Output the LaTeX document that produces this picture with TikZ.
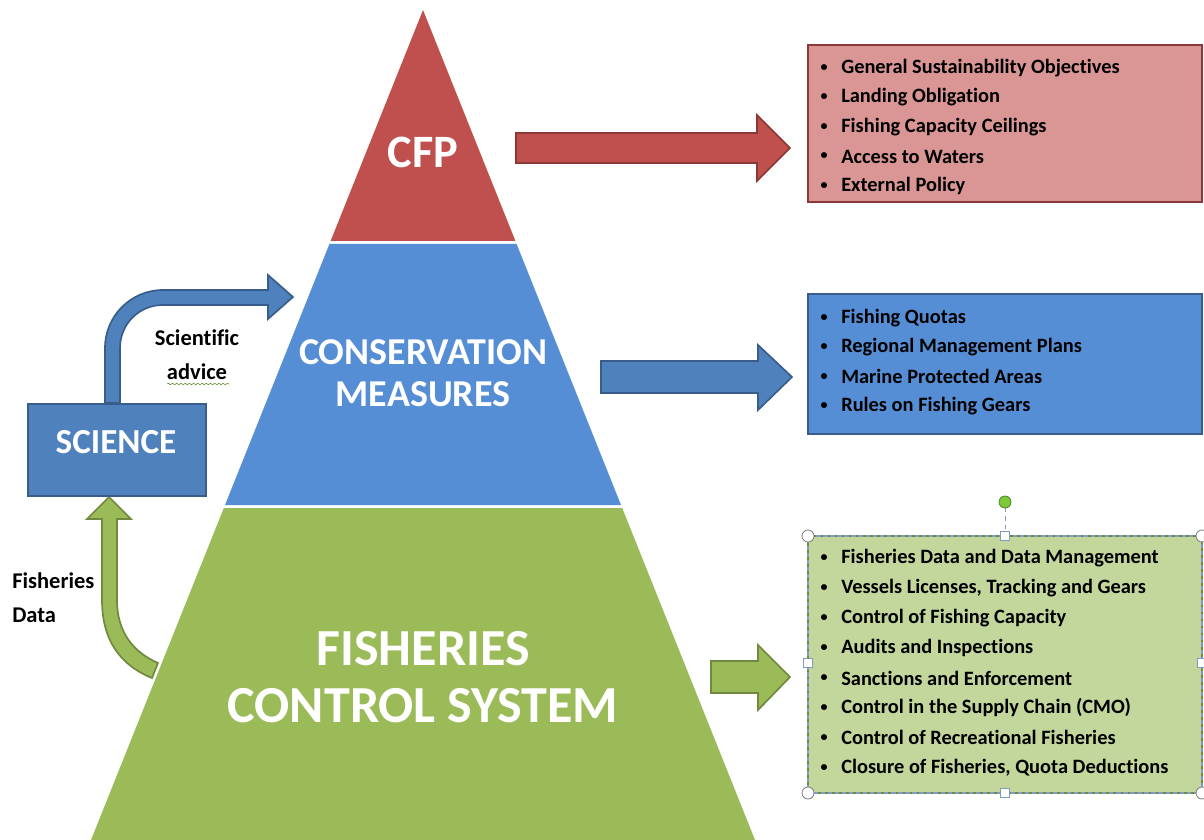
\documentclass[tikz,border=0pt]{standalone}
\usepackage{fontspec}
\setmainfont{Carlito}[Ligatures=NoCommon]
\usetikzlibrary{positioning}
\usetikzlibrary{decorations.pathmorphing}

\begin{document}
\begin{tikzpicture}
            [x=0.025cm, y=-0.025cm,
            tiertext/.style={text=white, font=\bfseries, align=center, inner sep=0pt},
            blockarrow/.style={line width=1.2pt, line join=miter},
            listbox/.style={line width=1.4pt},
            entry/.style={anchor=west, inner sep=0pt, font=\bfseries\fontsize{14.5}{17}\selectfont},
            bul/.style={inner sep=0pt, font=\bfseries\fontsize{10}{12}\selectfont},
            sidetext/.style={inner sep=0pt, font=\bfseries\fontsize{16}{24}\selectfont},
            handle/.style={fill=white, line width=0.6pt},
            ]
            \definecolor{cfpred}{HTML}{C0504D}
            \definecolor{cfpdark}{HTML}{8C3836}
            \definecolor{cfplight}{HTML}{D99694}
            \definecolor{cmblue}{HTML}{558ED5}
            \definecolor{sciblue}{HTML}{4F81BD}
            \definecolor{scidark}{HTML}{385D8A}
            \definecolor{fcsgreen}{HTML}{9BBB59}
            \definecolor{fcsdark}{HTML}{71893F}
            \definecolor{fcslight}{HTML}{C3D69B}
            \definecolor{selblue}{HTML}{7F9DC4}
            \definecolor{rotgreen}{HTML}{7CC93A}
            \useasboundingbox (0,0) rectangle (1204,840);

            % fisheries data arrow
            \draw[blockarrow, draw=fcsdark, fill=fcsgreen] (102,519) -- (102,600)
                .. controls (102,640) and (120,665) .. (152,678) -- (158,663)
                .. controls (133,652) and (117,632) .. (117,600) -- (117,519)
                -- (131,519) -- (109,497) -- (87,519) -- cycle;

            % pyramid
            \fill[cfpred] (423,10) -- (515.4,241) -- (330.6,241) -- cycle;
            \fill[cmblue] (329.4,244) -- (516.6,244) -- (621,505) -- (225,505) -- cycle;
            \fill[fcsgreen] (223.8,508) -- (622.2,508) -- (755,840) -- (91,840) -- cycle;
            \node[tiertext, font=\bfseries\fontsize{33}{36}\selectfont] (cfp) at (423,152) {CFP};
            \node[tiertext, font=\bfseries\fontsize{27}{30}\selectfont] (cm) at (423,373) {CONSERVATION\\MEASURES};
            \node[tiertext, font=\bfseries\fontsize{37}{40.5}\selectfont] (fcs) at (423,677) {FISHERIES\\CONTROL SYSTEM};

            % science
            \draw[draw=scidark, fill=sciblue, line width=1.4pt] (28,404) rectangle (206,496);
            \node[tiertext, font=\bfseries\fontsize{25}{28}\selectfont] (science) at (116,442) {SCIENCE};
            \draw[blockarrow, draw=scidark, fill=sciblue] (105,403) -- (105,348)
                .. controls (105,316) and (131,290) .. (163,290) -- (268,290)
                -- (268,275) -- (293,297) -- (268,319) -- (268,305) -- (163,305)
                .. controls (139,305) and (120,324) .. (120,348) -- (120,403) -- cycle;
            \node[sidetext, align=center] (advice) at (197,355) {Scientific\\advice};
            \draw[decorate, decoration={snake, amplitude=0.5pt, segment length=3pt}, rotgreen!70!black]
                (167,384) -- (229,384);
            \node[sidetext, align=left, anchor=west] (data) at (12,598) {Fisheries\\Data};

            % arrows to the lists
            \draw[blockarrow, draw=cfpdark, fill=cfpred] (516,133) -- (757,133) -- (757,115)
                -- (790,148) -- (757,181) -- (757,163) -- (516,163) -- cycle;
            \draw[blockarrow, draw=scidark, fill=sciblue] (601,361) -- (758,361) -- (758,345)
                -- (792,377) -- (758,410) -- (758,393) -- (601,393) -- cycle;
            \draw[blockarrow, draw=fcsdark, fill=fcsgreen] (711,661) -- (758,661) -- (758,645)
                -- (790,677) -- (758,710) -- (758,693) -- (711,693) -- cycle;

            % cfp list
            \draw[listbox, draw=cfpdark, fill=cfplight] (808,45) rectangle (1202,202);
            \foreach \t [count=\i] in {General Sustainability Objectives, Landing Obligation,
                Fishing Capacity Ceilings, Access to Waters, External Policy}
            {
                \node[bul] at (824, 38.5+29.5*\i) {\textbullet};
                \node[entry] (cfp\i) at (841, 38.5+29.5*\i) {\t};
            }

            % cm list
            \draw[listbox, draw=scidark, fill=cmblue] (808,294) rectangle (1202,434);
            \foreach \t [count=\i] in {Fishing Quotas, Regional Management Plans,
                Marine Protected Areas, Rules on Fishing Gears}
            {
                \node[bul] at (824, 288.7+29.3*\i) {\textbullet};
                \node[entry] (cm\i) at (841, 288.7+29.3*\i) {\t};
            }

            % fcs list
            \draw[line width=0.8pt, draw=selblue, fill=fcslight] (808,536) rectangle (1202,793);
            \draw[line width=0.8pt, draw=fcsdark, dash pattern=on 2pt off 3pt] (808,536) rectangle (1202,793);
            \foreach \t [count=\i] in {Fisheries Data and Data Management,
                {Vessels Licenses, Tracking and Gears}, Control of Fishing Capacity,
                Audits and Inspections, Sanctions and Enforcement,
                Control in the Supply Chain (CMO), Control of Recreational Fisheries,
                {Closure of Fisheries, Quota Deductions}}
            {
                \node[bul] at (824, 528.6+29.9*\i) {\textbullet};
                \node[entry] (fcs\i) at (841, 528.6+29.9*\i) {\t};
            }

            % selection handles
            \draw[selblue, dashed, line width=0.6pt] (1005,508) -- (1005,532);
            \draw[draw=rotgreen!60!black, fill=rotgreen, line width=0.5pt] (1005,502) circle (6);
            \foreach \p in {(808,536),(1202,536),(808,793),(1202,793)}
                \draw[handle, draw=gray] \p circle (6);
            \foreach \p in {(1005,536),(808,663),(1202,663),(1005,793)}
                \draw[handle, draw=selblue] \p ++(-4.5,-4.5) rectangle ++(9,9);
\end{tikzpicture}
\end{document}
